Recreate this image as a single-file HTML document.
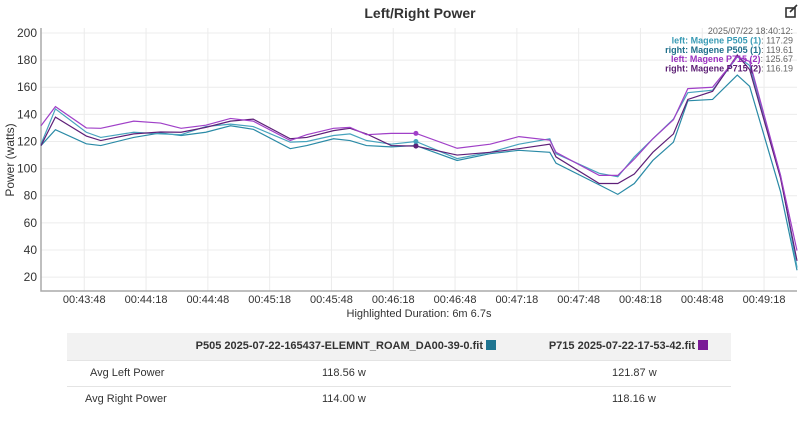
<!DOCTYPE html>
<html><head><meta charset="utf-8"><style>
body{margin:0;background:#fff;font-family:"Liberation Sans",sans-serif;width:800px;height:424px;overflow:hidden;position:relative}
.tb{position:absolute;font-size:11px;color:#333;white-space:nowrap}
.sq{display:inline-block;width:10px;height:10px;vertical-align:-1px;margin-left:3px}
</style></head><body>
<svg id="chart" width="800" height="330" style="position:absolute;left:0;top:0" font-family="Liberation Sans, sans-serif">
<text x="420" y="18" text-anchor="middle" font-size="14" font-weight="bold" fill="#333">Left/Right Power</text>
<g stroke="#333" stroke-width="1.6" fill="none"><rect x="786" y="8" width="9" height="9"/><path d="M790 12 L797 5"/></g>
<text transform="translate(14,160) rotate(-90)" text-anchor="middle" font-size="12" fill="#333">Power (watts)</text>
<text x="419" y="317" text-anchor="middle" font-size="11" fill="#333">Highlighted Duration: 6m 6.7s</text>
<g id="grid"></g><g id="series"></g><g id="tip"></g>
</svg>
<div>
<div style="position:absolute;left:67px;top:333px;width:664px;height:27px;background:#f2f2f2"></div>
<div style="position:absolute;left:67px;top:360px;width:664px;border-top:1px solid #e4e4e4"></div>
<div style="position:absolute;left:67px;top:386px;width:664px;border-top:1px solid #e4e4e4"></div>
<div class="tb" style="right:304px;top:340px;font-weight:bold">P505 2025-07-22-165437-ELEMNT_ROAM_DA00-39-0.fit<span class="sq" style="background:#1f7591"></span></div>
<div class="tb" style="right:92px;top:340px;font-weight:bold">P715 2025-07-22-17-53-42.fit<span class="sq" style="background:#7a1a96"></span></div>
<div class="tb" style="left:90px;top:367px">Avg Left Power</div>
<div class="tb" style="left:322px;top:367px">118.56 w</div>
<div class="tb" style="left:612px;top:367px">121.87 w</div>
<div class="tb" style="left:85px;top:393px">Avg Right Power</div>
<div class="tb" style="left:322px;top:393px">114.00 w</div>
<div class="tb" style="left:612px;top:393px">118.16 w</div>
</div>
<script>
const times=[0,7,22,29,45,58,68,80,92,103,121,129,142,150,158,170,182,202,218,232,247,250,271,280,288,297,307,314,326,338,344,359,367];
const leftP715=[131.6,145.7,130,129.7,135,133.6,129.7,132,137,135,120.7,125,129.7,130.4,125,126,126,115,118,123.6,121,112,95,95,107,122,136,159,160,182.5,179,95,39.5];
const rightP715=[117,138,124,120.7,125.6,127,126.8,130.4,135,136.5,122,123,128,129.7,125.6,117,116.6,110,112,114.7,118,108.6,89,89,96,112,125.6,151,157,183.8,173,93,32];
const leftP505=[118,144,126.8,123,126.8,125.6,125,131,132.8,131,119.5,120,124.4,125.6,120.7,118,120,107.4,112,118,122,111,96.5,94,108.6,122,136.5,156,157.8,182.5,176,95,27];
const rightP505=[117,128.7,118.3,117,123,126.3,124.4,126.8,131.6,129,114.7,117,122,120.7,117,116,117,106,111,113.5,112,104,88,81,89,106,119.5,150,151,169,160.7,83,25];
const yTicks=[20,40,60,80,100,120,140,160,180,200];
const xTickSec=[21,51,81,111,141,171,201,231,261,291,321,351];
const xTickLabels=["00:43:48","00:44:18","00:44:48","00:45:18","00:45:48","00:46:18","00:46:48","00:47:18","00:47:48","00:48:18","00:48:48","00:49:18"];
const hoverTime=182;
const tipLabels=["left: Magene P505 (1)","right: Magene P505 (1)","left: Magene P715 (2)","right: Magene P715 (2)"];
const tipValues=["117.29","119.61","125.67","116.19"];
const NS="http://www.w3.org/2000/svg";
const X=t=>41+t*2.06, Y=v=>33+(200-v)*1.356;
function mk(tag,attrs,parent){const e=document.createElementNS(NS,tag);for(const k in attrs)e.setAttribute(k,attrs[k]);parent.appendChild(e);return e;}
const grid=document.getElementById('grid');
yTicks.forEach(v=>{const l=mk('line',{x1:41,x2:797,y1:Y(v),y2:Y(v),stroke:'#ececec'},grid);


const t=mk('text',{x:37,y:Y(v)+4,'text-anchor':'end','font-size':12,fill:'#333'},grid);t.textContent=v;

});
xTickSec.forEach((s,i)=>{const l=mk('line',{x1:X(s),x2:X(s),y1:28,y2:291,stroke:'#ececec'},grid);


const t=mk('text',{x:X(s),y:303,'text-anchor':'middle','font-size':11,fill:'#333'},grid);t.textContent=xTickLabels[i];

});
const ax=mk('path',{d:'M41 28 V291 H797',stroke:'#aaa',fill:'none','stroke-width':1.5},grid);


const ser=document.getElementById('series');
const defs=[[rightP505,'#2a8aa6','right-p505-line'],[leftP505,'#47a3bd','left-p505-line'],[rightP715,'#5e1f78','right-p715-line'],[leftP715,'#a040c8','left-p715-line']];
const hi=times.indexOf(hoverTime);
defs.forEach(([vals,c,n])=>{const p=mk('polyline',{points:vals.map((v,i)=>X(times[i])+','+Y(v)).join(' '),fill:'none',stroke:c,'stroke-width':1.2},ser);


const d=mk('circle',{cx:X(times[hi]),cy:Y(vals[hi]),r:2.5,fill:c},ser);

});
const tip=document.getElementById('tip');
const tc=['#3a9bb5','#1f6f8b','#9b30c0','#5b1d73'];
const h=mk('text',{x:793,y:34,'text-anchor':'end','font-size':9,fill:'#666'},tip);h.textContent='2025/07/22 18:40:12:';


tipLabels.forEach((s,i)=>{const t=mk('text',{x:793,y:43.5+i*9.3,'text-anchor':'end','font-size':9,fill:'#666'},tip);


const a=mk('tspan',{fill:tc[i],'font-weight':'bold'},t);a.textContent=s;
const b=mk('tspan',{},t);b.textContent=': '+tipValues[i];});
</script>
</body></html>
